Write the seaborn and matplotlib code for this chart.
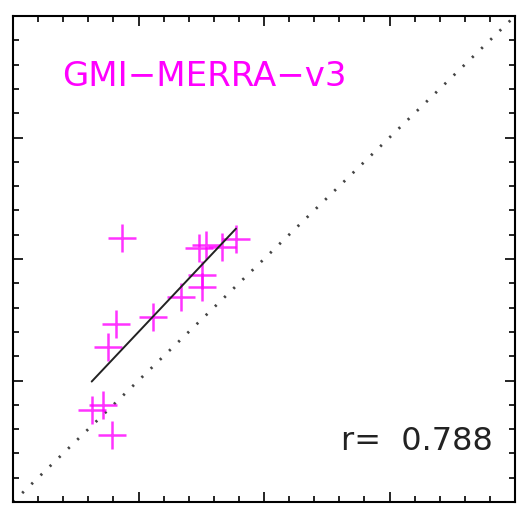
import matplotlib
matplotlib.use("Agg")
import matplotlib.pyplot as plt
import seaborn as sns
import numpy as np
import pandas as pd
from matplotlib.ticker import MultipleLocator

# Model vs. observation pairs
model_vals = [8.66, 14.82, 15.38, 16.65, 17.77, 15.04, 15.04, 13.39, 11.18, 8.21, 7.59, 7.15, 6.27, 7.89]
obs_vals = [21.70, 20.91, 21.15, 20.99, 21.65, 18.72, 17.70, 16.91, 15.20, 14.61, 12.76, 7.98, 7.57, 5.51]
axis_limits = [0, 40]
title_text = "GMI\u2212MERRA\u2212v3"
corr_text = "r=  0.788"

df = pd.DataFrame({"model": model_vals, "obs": obs_vals})

sns.set_theme(style="white")
plt.rcParams["font.family"] = ["DejaVu Sans"]

fig = plt.figure(figsize=(5.2, 5.13), dpi=100)
ax = fig.add_axes([13 / 520, 11 / 513, 502 / 520, 486 / 513])

# 1:1 reference line
ax.plot(axis_limits, axis_limits, color="#444444", lw=2.0,
        linestyle=(0, (0.8, 3.8)), zorder=1)

sns.regplot(data=df, x="model", y="obs", ax=ax, ci=None, truncate=True,
            marker="+",
            scatter_kws=dict(color="#ff00ff", s=380, linewidths=1.8, zorder=2),
            line_kws=dict(color="#222222", lw=1.4, zorder=3))

ax.set_xlim(axis_limits)
ax.set_ylim(axis_limits)
ax.set_xlabel("")
ax.set_ylabel("")

for side in ax.spines.values():
    side.set_visible(True)
    side.set_color("black")
    side.set_linewidth(1.5)

ax.xaxis.set_major_locator(MultipleLocator(10))
ax.xaxis.set_minor_locator(MultipleLocator(2))
ax.yaxis.set_major_locator(MultipleLocator(10))
ax.yaxis.set_minor_locator(MultipleLocator(2))
ax.tick_params(which="both", direction="in", top=True, right=True,
               bottom=True, left=True, labelbottom=False, labelleft=False,
               color="black", width=1.2)
ax.tick_params(which="major", length=7.5)
ax.tick_params(which="minor", length=4)

ax.text(0.098, 0.856, title_text, transform=ax.transAxes, color="#ff00ff",
        fontsize=24.5, ha="left", va="baseline")
ax.text(0.955, 0.107, corr_text, transform=ax.transAxes, color="#222222",
        fontsize=23, ha="right", va="baseline")

fig.savefig("out.png", dpi=100, facecolor="white")
